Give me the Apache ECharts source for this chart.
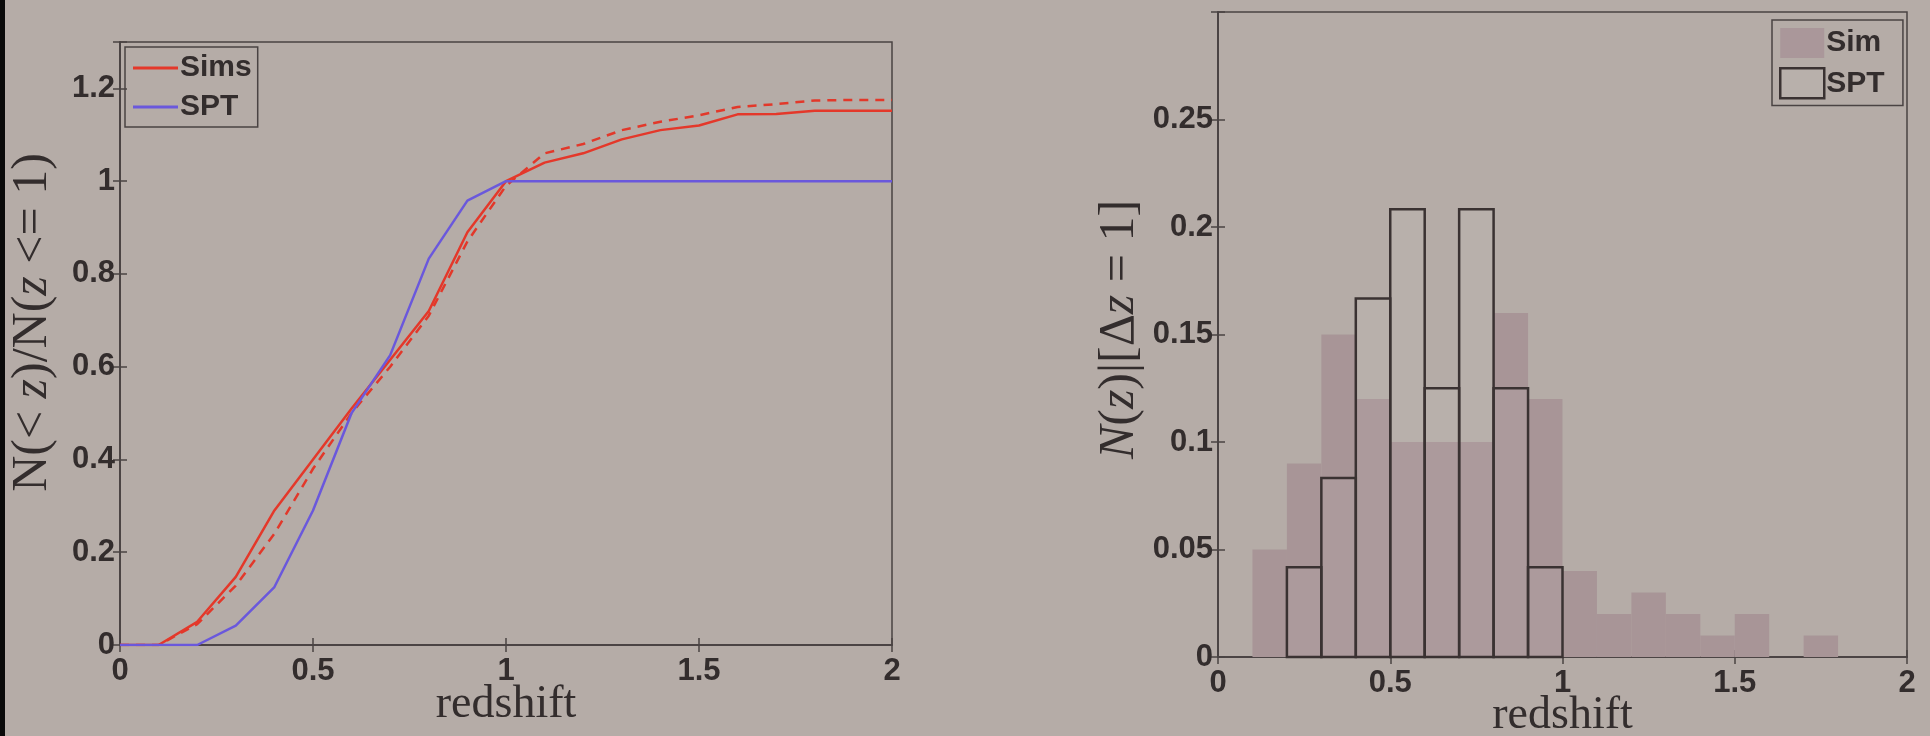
<!DOCTYPE html>
<html>
<head>
<meta charset="utf-8">
<script src="https://cdn.jsdelivr.net/npm/echarts@6/dist/echarts.min.js"></script>
<style>
html,body{margin:0;padding:0;background:#b5aca7;}
#c{width:1930px;height:736px;}
</style>
</head>
<body>
<div id="c"></div>
<script>
// ---- Left panel: cumulative redshift distributions ----
const zGrid = [0,0.1,0.2,0.3,0.4,0.5,0.6,0.7,0.8,0.9,1.0,1.1,1.2,1.3,1.4,1.5,1.6,1.7,1.8,1.9,2.0];
const simsCum = [0,0,0.05,0.147,0.29,0.40,0.51,0.615,0.72,0.89,1.0,1.04,1.06,1.09,1.11,1.12,1.144,1.145,1.152,1.152,1.152];
const simsModel = [0,0,0.045,0.128,0.24,0.38,0.50,0.60,0.71,0.87,0.99,1.06,1.08,1.11,1.128,1.142,1.16,1.166,1.174,1.175,1.175];
const sptCum = [0,0,0,0.0417,0.125,0.29,0.5,0.625,0.833,0.958,1,1,1,1,1,1,1,1,1,1,1];
const leftYTicks = [0,0.2,0.4,0.6,0.8,1,1.2];

// ---- Right panel: histograms (bin edges 0..2 step 0.1) ----
const binEdges = [0,0.1,0.2,0.3,0.4,0.5,0.6,0.7,0.8,0.9,1.0,1.1,1.2,1.3,1.4,1.5,1.6,1.7,1.8,1.9,2.0];
const simFrac = [0,0.05,0.09,0.15,0.12,0.10,0.10,0.10,0.16,0.12,0.04,0.02,0.03,0.02,0.01,0.02,0,0.01,0,0];
const sptFrac = [0,0,0.0417,0.0833,0.1667,0.2083,0.125,0.2083,0.125,0.0417,0,0,0,0,0,0,0,0,0,0];
const rightYTicks = [0,0.05,0.1,0.15,0.2,0.25];
const xTicks = [0,0.5,1,1.5,2];

const pairs = (xs, ys) => xs.map((x,i)=>[x, ys[i]]);
const bins = (vals) => vals.map((v,i)=>[binEdges[i], binEdges[i+1], v]);

const AX = '#4a4343';
const TXT = '#332d2d';
const tickFont = {fontFamily:'Liberation Sans, Arial, sans-serif', fontSize:31, fontWeight:'bold', color:TXT};
const nameFont = {fontFamily:'Liberation Serif, Times New Roman, serif', fontSize:46, color:TXT};

function fmtIn(list){
  return v => list.some(t=>Math.abs(t-v)<1e-9) ? String(+v.toFixed(4)) : '';
}
function xAx(gi, bottom, gap){
  return {
    type:'value', gridIndex:gi, min:0, max:2, interval:0.5, position: bottom?'bottom':'top',
    axisLine:{show:true, lineStyle:{color:AX, width:1.5}},
    axisTick:{show:true, inside:true, length:7, lineStyle:{color:AX, width:1.5}},
    axisLabel:{show:bottom, margin:11, formatter:fmtIn(xTicks), ...tickFont},
    splitLine:{show:false},
    name: bottom ? 'redshift' : '', nameLocation:'middle', nameGap:gap, nameMoveOverlap:false,
    nameTextStyle: nameFont
  };
}
function yAx(gi, left, max, interval, ticks, name, gap, rich, size, pad){
  return {
    type:'value', gridIndex:gi, min:0, max:max, interval:interval, position: left?'left':'right',
    axisLine:{show:true, lineStyle:{color:AX, width:1.5}},
    axisTick:{show:true, inside:true, length:7, lineStyle:{color:AX, width:1.5}},
    axisLabel:{show:left, margin:5, formatter:fmtIn(ticks), ...tickFont},
    splitLine:{show:false},
    name: left ? name : '', nameLocation:'middle', nameGap:gap, nameMoveOverlap:false,
    nameTextStyle: Object.assign({}, nameFont, {fontSize:size||46, rich: rich, padding: pad||0})
  };
}

const mk = (sz, it) => ({fontFamily:'Liberation Serif, serif', fontSize:sz, fontStyle: it?'italic':'normal', color:TXT});

const option = {
  backgroundColor:'#b5aca7',
  animation:false,
  grid:[
    {left:120, top:42, width:772, height:603, containLabel:false, outerBoundsMode:'none',
     show:true, borderColor:AX, borderWidth:1.5, backgroundColor:'transparent'},
    {left:1218, top:12, width:689, height:645, containLabel:false, outerBoundsMode:'none',
     show:true, borderColor:AX, borderWidth:1.5, backgroundColor:'transparent'}
  ],
  xAxis:[ xAx(0,true,37), xAx(0,false,0), xAx(1,true,36), xAx(1,false,0) ],
  yAxis:[
    yAx(0,true,1.3,0.2,leftYTicks,'{u|N(< }{i|z}{u|)/N(}{i|z}{u| <= 1)}',62,{u:mk(50,false),i:mk(50,true)},50,[0,0,0,42]),
    yAx(0,false,1.3,0.2,leftYTicks,'',0),
    yAx(1,true,0.3,0.05,rightYTicks,'{i|N}{u|(}{i|z}{u|)|[Δ}{i|z}{u| = 1]}',73,{u:mk(50,false),i:mk(50,true)},50,[0,0,0,10]),
    yAx(1,false,0.3,0.05,rightYTicks,'',0)
  ],
  legend:[
    {
      left:125, top:47, orient:'vertical',
      data:[{name:'Sims'},{name:'SPT'}],
      icon:'rect', itemWidth:45, itemHeight:3, itemGap:9,
      padding:[6,6,5,8], borderColor:AX, borderWidth:1.5,
      textStyle:{fontFamily:'Liberation Sans, Arial, sans-serif', fontSize:30, fontWeight:'bold', color:TXT, padding:[0,0,0,-3]}
    },
    {
      left:1772, top:20, orient:'vertical',
      data:[
        {name:'Sim', icon:'rect', itemStyle:{color:'#aa979a', borderWidth:0}},
        {name:'SPT ', icon:'rect', itemStyle:{color:'rgba(255,255,255,0.05)', borderColor:'#3a3232', borderWidth:2.5}}
      ],
      itemWidth:44, itemHeight:30, itemGap:9,
      padding:[8,10,6,7], borderColor:AX, borderWidth:1.5,
      textStyle:{fontFamily:'Liberation Sans, Arial, sans-serif', fontSize:30, fontWeight:'bold', color:TXT, padding:[0,0,0,-3]}
    }
  ],
  series:[
    {
      name:'Sims model', type:'line', xAxisIndex:0, yAxisIndex:0,
      data:pairs(zGrid, simsModel), showSymbol:false, symbol:'none',
      lineStyle:{color:'#e2382a', width:2.5, type:[9,7]}, itemStyle:{color:'#e2382a'}, z:3
    },
    {
      name:'Sims', type:'line', xAxisIndex:0, yAxisIndex:0,
      data:pairs(zGrid, simsCum), showSymbol:false, symbol:'none',
      lineStyle:{color:'#e4382a', width:2.5}, itemStyle:{color:'#e4382a'}, z:4
    },
    {
      name:'SPT', type:'line', xAxisIndex:0, yAxisIndex:0,
      data:pairs(zGrid, sptCum), showSymbol:false, symbol:'none',
      lineStyle:{color:'#6a58dc', width:2.5}, itemStyle:{color:'#6a58dc'}, z:5
    },
    {
      name:'Sim', type:'custom', xAxisIndex:2, yAxisIndex:2,
      data:bins(simFrac), encode:{x:[0,1], y:2}, itemStyle:{color:'#a89597'},
      renderItem:(params, api)=>{
        const v = api.value(2);
        if (!v) return null;
        const a = api.coord([api.value(0), 0]);
        const b = api.coord([api.value(1), v]);
        return {type:'rect', shape:{x:a[0], y:b[1], width:b[0]-a[0], height:a[1]-b[1]},
                style:{fill:'#a89597'}};
      }, z:2
    },
    {
      name:'SPT ', type:'custom', xAxisIndex:2, yAxisIndex:2,
      data:bins(sptFrac), encode:{x:[0,1], y:2}, itemStyle:{color:'#3a3232'},
      renderItem:(params, api)=>{
        const v = api.value(2);
        if (!v) return null;
        const a = api.coord([api.value(0), 0]);
        const b = api.coord([api.value(1), v]);
        return {type:'rect', shape:{x:a[0], y:b[1], width:b[0]-a[0], height:a[1]-b[1]},
                style:{fill:'rgba(255,255,255,0.05)', stroke:'#3a3232', lineWidth:2.5}};
      }, z:3
    }
  ],
  graphic:[
    {type:'rect', left:0, top:0, shape:{width:5, height:736}, style:{fill:'#0a0a0a'}, z:100}
  ]
};

const chart = echarts.init(document.getElementById('c'), null, {renderer:'canvas'});
chart.setOption(option);
</script>
</body>
</html>
